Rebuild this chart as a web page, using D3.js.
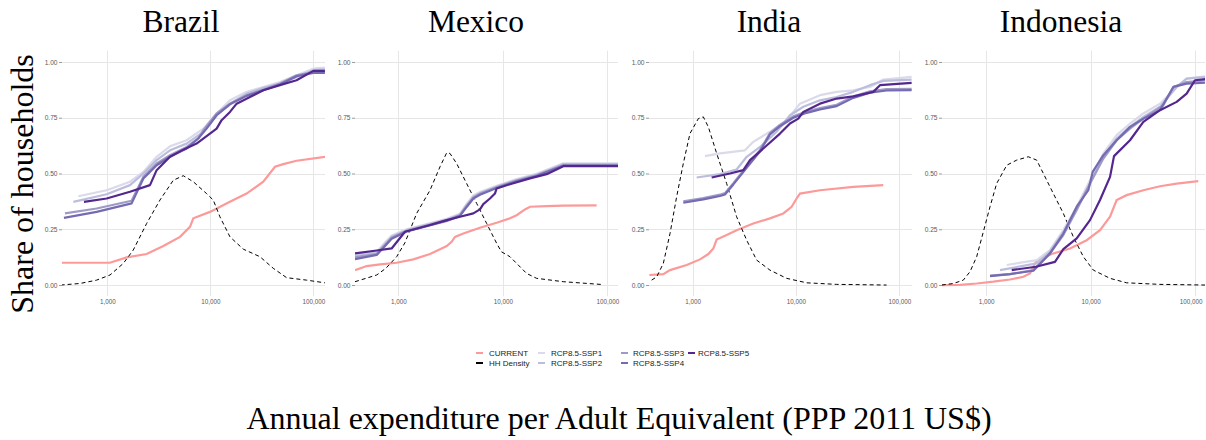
<!DOCTYPE html>
<html>
<head>
<meta charset="utf-8">
<script src="https://cdn.jsdelivr.net/npm/d3@7"></script>
<style>
  body { margin: 0; background: #fff; }
  svg { display: block; }
</style>
</head>
<body>
<svg id="chart" width="1206" height="440"></svg>
<script>
// ---- categories, ticks, series names ----
const countries = ["Brazil", "Mexico", "India", "Indonesia"];
const seriesNames = ["CURRENT", "HH Density", "RCP8.5-SSP1", "RCP8.5-SSP2", "RCP8.5-SSP3", "RCP8.5-SSP4", "RCP8.5-SSP5"];
const scenarioNames = ["RCP8.5-SSP1", "RCP8.5-SSP2", "RCP8.5-SSP3", "RCP8.5-SSP4", "RCP8.5-SSP5"];
const yTicks = [0, 0.25, 0.5, 0.75, 1];
const xTicks = [1000, 10000, 100000];
// expenditure range shown in each panel (log axis)
const xLimits = [[363, 130000], [385, 126500], [378, 132700], [379, 124700]];

// ---- Brazil: [expenditure, share] ----
const brazilCurrent = [[352,0.10],[1060,0.10],[1540,0.124],[2410,0.139],[3500,0.175],[5080,0.216],[6350,0.261],[6840,0.299],[9930,0.328],[15500,0.373],[22500,0.41],[32700,0.463],[42500,0.53],[51200,0.542],[68800,0.557],[130000,0.575]];
const brazilDensity = [[352,0],[543,0.007],[787,0.022],[1062,0.045],[1430,0.097],[1787,0.157],[2410,0.276],[3245,0.381],[4375,0.47],[5470,0.49],[6840,0.463],[9200,0.41],[10690,0.381],[12400,0.306],[15530,0.216],[20900,0.161],[30350,0.127],[40900,0.075],[55100,0.033],[86100,0.022],[129700,0.01]];
const brazilSsp1 = [[523,0.398],[985,0.425],[1660,0.463],[2240,0.507],[3013,0.575],[4060,0.622],[5890,0.649],[8550,0.701],[11520,0.769],[15530,0.828],[22540,0.866],[32730,0.888],[47450,0.91],[68850,0.94],[100000,0.97],[129700,0.975]];
const brazilSsp2 = [[468,0.373],[985,0.407],[1660,0.448],[2240,0.5],[3013,0.56],[4060,0.604],[5890,0.634],[8550,0.687],[11520,0.761],[15530,0.813],[22540,0.858],[32730,0.884],[47450,0.903],[68850,0.933],[100000,0.963],[129700,0.967]];
const brazilSsp3 = [[388,0.321],[787,0.343],[1722,0.378],[2240,0.485],[3013,0.545],[4060,0.582],[5890,0.619],[7640,0.657],[8550,0.694],[11520,0.769],[15530,0.813],[22540,0.851],[32730,0.876],[47450,0.903],[68850,0.94],[100000,0.955],[129700,0.955]];
const brazilSsp4 = [[379,0.301],[787,0.328],[1722,0.366],[2240,0.478],[3013,0.537],[4060,0.575],[5890,0.612],[7640,0.657],[9200,0.701],[11520,0.761],[15530,0.81],[22540,0.848],[32730,0.873],[47450,0.899],[68850,0.936],[100000,0.951],[129700,0.951]];
const brazilSsp5 = [[593,0.373],[985,0.388],[1660,0.418],[2596,0.448],[3013,0.515],[4060,0.575],[5470,0.607],[7360,0.634],[9930,0.679],[11520,0.701],[12880,0.739],[15530,0.776],[18030,0.813],[24270,0.843],[32730,0.873],[47450,0.896],[68850,0.918],[100000,0.96],[129700,0.96]];

// ---- Mexico ----
const mexicoCurrent = [[385,0.067],[498,0.085],[668,0.093],[964,0.10],[1392,0.115],[2010,0.139],[2505,0.16],[2904,0.175],[3238,0.194],[3486,0.216],[4188,0.231],[6043,0.257],[8727,0.279],[11710,0.299],[13560,0.313],[16290,0.339],[18200,0.351],[26250,0.354],[37900,0.356],[79000,0.357]];
const mexicoDensity = [[385,0.015],[621,0.045],[760,0.075],[964,0.127],[1158,0.19],[1497,0.321],[2010,0.425],[2505,0.53],[2904,0.593],[3119,0.59],[3614,0.545],[4506,0.455],[5620,0.366],[7003,0.276],[8727,0.187],[9700,0.149],[11710,0.127],[13560,0.097],[16900,0.052],[21070,0.03],[37900,0.015],[91600,0.002]];
const mexicoSsp1 = [[385,0.139],[621,0.148],[717,0.182],[863,0.222],[1201,0.25],[2904,0.297],[3890,0.32],[4506,0.364],[5224,0.402],[6043,0.417],[8727,0.445],[13560,0.475],[21070,0.499],[28270,0.522],[37900,0.546],[127400,0.546]];
const mexicoSsp2 = [[385,0.130],[621,0.143],[717,0.176],[863,0.216],[1201,0.246],[2904,0.293],[3890,0.316],[4506,0.358],[5224,0.396],[6043,0.412],[8727,0.441],[13560,0.471],[21070,0.495],[28270,0.518],[37900,0.542],[127400,0.542]];
const mexicoSsp3 = [[385,0.124],[621,0.139],[717,0.17],[863,0.212],[1201,0.243],[2904,0.29],[3890,0.313],[4506,0.354],[5224,0.392],[6043,0.409],[8727,0.438],[13560,0.468],[21070,0.492],[28270,0.515],[37900,0.538],[127400,0.538]];
const mexicoSsp4 = [[385,0.116],[621,0.135],[717,0.166],[863,0.208],[1201,0.24],[2904,0.287],[3890,0.31],[4506,0.35],[5224,0.388],[6043,0.405],[8727,0.435],[13560,0.465],[21070,0.489],[28270,0.512],[37900,0.535],[127400,0.535]];
const mexicoSsp5 = [[385,0.142],[621,0.155],[863,0.164],[1158,0.239],[2010,0.269],[2904,0.291],[3890,0.306],[5224,0.321],[6043,0.339],[6503,0.363],[7532,0.388],[8407,0.41],[8727,0.433],[11710,0.452],[18200,0.478],[26250,0.497],[37900,0.533],[127400,0.533]];

// ---- India ----
const indiaCurrent = [[381,0.045],[520,0.049],[604,0.067],[875,0.09],[1178,0.115],[1418,0.139],[1586,0.164],[1708,0.204],[2133,0.224],[2665,0.246],[3862,0.276],[5596,0.299],[7537,0.321],[9080,0.351],[10140,0.388],[10930,0.41],[17070,0.425],[35880,0.44],[70000,0.448]];
const indiaDensity = [[401,0.022],[449,0.037],[520,0.097],[604,0.231],[700,0.396],[812,0.545],[942,0.679],[1135,0.746],[1268,0.754],[1418,0.709],[1708,0.59],[2133,0.455],[2665,0.306],[3333,0.201],[4158,0.112],[5596,0.067],[8128,0.03],[12680,0.01],[24770,0.003],[75300,0.0]];
const indiaSsp1 = [[1316,0.578],[1841,0.59],[3206,0.604],[3862,0.642],[5596,0.687],[8128,0.739],[10930,0.813],[17070,0.851],[24770,0.866],[35880,0.873],[52000,0.888],[70000,0.921],[131600,0.933]];
const indiaSsp2 = [[1093,0.482],[1841,0.497],[2665,0.518],[3333,0.575],[4490,0.619],[6500,0.687],[8750,0.761],[11780,0.799],[17070,0.828],[24770,0.843],[35880,0.866],[52000,0.896],[70000,0.915],[131600,0.921]];
const indiaSsp3 = [[812,0.375],[1268,0.39],[1841,0.405],[2054,0.412],[2477,0.457],[3333,0.532],[4490,0.606],[5596,0.681],[7000,0.718],[9420,0.756],[12680,0.778],[17070,0.793],[24770,0.808],[35880,0.845],[52000,0.868],[75300,0.878],[131600,0.88]];
const indiaSsp4 = [[812,0.369],[1268,0.384],[1841,0.399],[2054,0.406],[2477,0.451],[3333,0.526],[4490,0.6],[5596,0.675],[7000,0.712],[9420,0.75],[12680,0.772],[17070,0.787],[24770,0.802],[35880,0.839],[52000,0.862],[75300,0.872],[131600,0.874]];
const indiaSsp5 = [[1527,0.482],[2296,0.5],[3093,0.515],[3586,0.56],[4830,0.612],[7000,0.679],[8750,0.724],[10540,0.746],[11780,0.776],[17070,0.813],[24770,0.836],[35880,0.846],[56000,0.866],[65000,0.896],[131600,0.906]];

// ---- Indonesia ----
const indonesiaCurrent = [[377,0],[564,0.001],[814,0.007],[1175,0.015],[1698,0.025],[2277,0.037],[2636,0.052],[2838,0.082],[3010,0.104],[3500,0.12],[4246,0.139],[6362,0.164],[9190,0.201],[12330,0.246],[15380,0.306],[17800,0.381],[22180,0.403],[32040,0.425],[46250,0.443],[66790,0.455],[107600,0.466]];
const indonesiaDensity = [[377,0],[487,0.007],[606,0.022],[703,0.06],[814,0.127],[943,0.239],[1092,0.351],[1264,0.455],[1578,0.537],[1965,0.56],[2541,0.575],[3054,0.56],[3538,0.5],[4409,0.41],[5496,0.321],[6850,0.216],[8540,0.127],[10640,0.067],[15380,0.03],[22180,0.01],[46250,0.003],[127400,0]];
const indonesiaSsp1 = [[1578,0.09],[3054,0.112],[4093,0.157],[5496,0.246],[7380,0.351],[9890,0.47],[13280,0.59],[17800,0.672],[23880,0.724],[32040,0.769],[46250,0.813],[62080,0.873],[83200,0.925],[127400,0.936]];
const indonesiaSsp2 = [[1361,0.067],[3054,0.097],[4093,0.15],[5496,0.237],[7380,0.343],[9890,0.455],[13280,0.575],[17800,0.657],[23880,0.709],[32040,0.754],[46250,0.799],[66790,0.888],[83200,0.925],[127400,0.933]];
const indonesiaSsp3 = [[1092,0.042],[1698,0.049],[2838,0.067],[4093,0.142],[5496,0.224],[7380,0.336],[9890,0.455],[13280,0.567],[17800,0.649],[23880,0.701],[32040,0.746],[49770,0.806],[62080,0.888],[83200,0.91],[127400,0.918]];
const indonesiaSsp4 = [[1092,0.04],[1698,0.049],[2838,0.064],[4093,0.142],[5496,0.231],[7380,0.351],[9530,0.425],[10490,0.507],[13280,0.582],[17800,0.649],[23880,0.709],[32040,0.746],[46250,0.784],[62080,0.888],[83200,0.903],[127400,0.907]];
const indonesiaSsp5 = [[1761,0.067],[3010,0.082],[4571,0.104],[5496,0.161],[7380,0.209],[9890,0.291],[12330,0.381],[15380,0.485],[16790,0.578],[23880,0.649],[32040,0.731],[46250,0.784],[66790,0.821],[83200,0.858],[100000,0.918],[127400,0.924]];

// ---- assemble per-panel series ----
const panels = [
  { current: brazilCurrent, density: brazilDensity, ssp: [brazilSsp1, brazilSsp2, brazilSsp3, brazilSsp4, brazilSsp5] },
  { current: mexicoCurrent, density: mexicoDensity, ssp: [mexicoSsp1, mexicoSsp2, mexicoSsp3, mexicoSsp4, mexicoSsp5] },
  { current: indiaCurrent, density: indiaDensity, ssp: [indiaSsp1, indiaSsp2, indiaSsp3, indiaSsp4, indiaSsp5] },
  { current: indonesiaCurrent, density: indonesiaDensity, ssp: [indonesiaSsp1, indonesiaSsp2, indonesiaSsp3, indonesiaSsp4, indonesiaSsp5] }
];

// ---- styling ----
const color = d3.scaleOrdinal()
  .domain(seriesNames)
  .range(["#fc9a9a", "#000000", "#dadaeb", "#bcbddc", "#9e9ac8", "#756bb1", "#54278f"]);
const serif = "'Liberation Serif', 'Times New Roman', serif";
const sans = "'Liberation Sans', Arial, sans-serif";

// ---- layout ----
const panelW = 263;
const panelLefts = [62, 355, 649, 942];
const titleCenters = [181, 476, 769, 1061];   // each sub-plot title is centred over its whole sub-plot
const panelTop = 50.8, panelBottom = 296.2;

const svg = d3.select("#chart");
const y = d3.scaleLinear().domain([-0.05, 1.05]).range([panelBottom, panelTop]);

panels.forEach((p, i) => {
  const x0 = panelLefts[i];
  const x = d3.scaleLog().domain(xLimits[i]).range([x0, x0 + panelW]);
  const g = svg.append("g");

  const clipId = "clip" + i;
  svg.append("clipPath").attr("id", clipId)
    .append("rect").attr("x", x0).attr("y", panelTop).attr("width", panelW).attr("height", panelBottom - panelTop);

  // grid
  g.append("g").selectAll("line").data(yTicks).join("line")
    .attr("x1", x0).attr("x2", x0 + panelW)
    .attr("y1", d => Math.round(y(d)) + 0.5).attr("y2", d => Math.round(y(d)) + 0.5)
    .attr("stroke", "#e6e6e6").attr("stroke-width", 1);
  g.append("g").selectAll("line").data(xTicks).join("line")
    .attr("x1", d => Math.round(x(d)) + 0.5).attr("x2", d => Math.round(x(d)) + 0.5)
    .attr("y1", panelTop).attr("y2", panelBottom)
    .attr("stroke", "#e6e6e6").attr("stroke-width", 1);

  // axes
  const yAxis = g.append("g").attr("transform", `translate(${x0},0)`)
    .call(d3.axisLeft(y).tickValues(yTicks).tickFormat(d3.format(".2f")).tickSize(3).tickPadding(1.5));
  yAxis.select(".domain").remove();
  yAxis.selectAll(".tick line").attr("stroke", "#999");
  yAxis.selectAll("text").attr("fill", "#5a5a5a").style("font-family", sans).style("font-size", "6.6px");

  const xAxis = g.append("g").attr("transform", `translate(0,${panelBottom})`)
    .call(d3.axisBottom(x).tickValues(xTicks).tickFormat(d3.format(",")).tickSize(0).tickPadding(3.5));
  xAxis.select(".domain").remove();
  xAxis.selectAll("text").attr("fill", "#5a5a5a").style("font-family", sans).style("font-size", "6.3px");
  // keep the last label inside the page on the right-most sub-plot
  if (i === panels.length - 1) {
    xAxis.selectAll(".tick text").filter(d => d === xTicks[xTicks.length - 1])
      .attr("text-anchor", "end").attr("dx", "1.1em");
  }

  // lines
  const line = d3.line().x(d => x(d[0])).y(d => y(d[1]));
  const plot = g.append("g").attr("clip-path", `url(#${clipId})`);
  plot.append("path").datum(p.current).attr("d", line)
    .attr("fill", "none").attr("stroke", color("CURRENT")).attr("stroke-width", 2.2);
  plot.append("path").datum(p.density).attr("d", line)
    .attr("fill", "none").attr("stroke", color("HH Density")).attr("stroke-width", 1)
    .attr("stroke-dasharray", "4,3");
  p.ssp.forEach((s, k) => {
    plot.append("path").datum(s).attr("d", line)
      .attr("fill", "none").attr("stroke", color(scenarioNames[k])).attr("stroke-width", 2.2)
      .attr("stroke-linejoin", "round");
  });

  // sub-plot title
  svg.append("text").attr("x", titleCenters[i]).attr("y", 32)
    .attr("text-anchor", "middle").style("font-family", serif).style("font-size", "31.5px")
    .text(countries[i]);
});

// axis titles
svg.append("text").attr("transform", "translate(33,184) rotate(-90)")
  .attr("text-anchor", "middle").style("font-family", serif).style("font-size", "32px")
  .text("Share of households");
svg.append("text").attr("x", 619).attr("y", 429)
  .attr("text-anchor", "middle").style("font-family", serif).style("font-size", "32px")
  .text("Annual expenditure per Adult Equivalent (PPP 2011 US$)");

// legend (column-major, two rows)
const legendCols = [[476, 489], [538, 551], [621, 633], [688, 698]];
const legendRows = [353, 363];
const legend = svg.append("g");
seriesNames.forEach((name, k) => {
  const col = Math.floor(k / 2), row = k % 2;
  const [kx, tx] = legendCols[col];
  const ly = legendRows[row];
  legend.append("line").attr("x1", kx).attr("x2", kx + 7).attr("y1", ly).attr("y2", ly)
    .attr("stroke", color(name)).attr("stroke-width", 2);
  legend.append("text").attr("x", tx).attr("y", ly).attr("dy", "0.35em")
    .style("font-family", sans).style("font-size", "8px").attr("fill", "#222")
    .text(name);
});
</script>
</body>
</html>
